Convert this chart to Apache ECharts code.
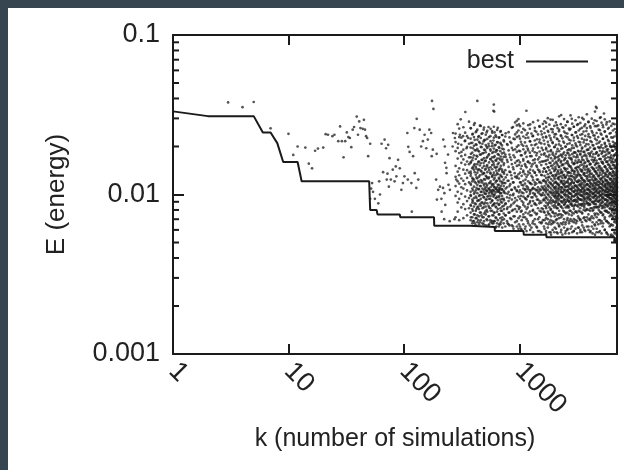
<!DOCTYPE html>
<html><head><meta charset="utf-8">
<script src="https://cdn.jsdelivr.net/npm/echarts@6/dist/echarts.min.js"></script>
<style>
html,body{margin:0;padding:0;background:#36454f;}
#wrap{position:absolute;left:8px;top:8px;width:616px;height:462px;background:#fff;}
#chart{position:absolute;left:-8px;top:-8px;width:624px;height:470px;}
</style></head>
<body><div id="wrap"><div id="chart"></div></div>
<script>
// ---- data ----
const xTickLabels = ['1', '10', '100', '1000'];
const yTickLabels = ['0.001', '0.01', '0.1'];
const yMinorTicks = [0.002,0.003,0.004,0.005,0.006,0.007,0.008,0.009,0.02,0.03,0.04,0.05,0.06,0.07,0.08,0.09];

const bestK = [1,2,5,6,7,8,9,12,13,50,51,58,59,92,93,182,183,370,371,610,613,1085,1090,1710,1713,6650,6700,7000];
const bestE = [0.0332,0.031,0.031,0.0245,0.0245,0.021,0.016,0.016,0.0121,0.0121,0.008,0.008,0.0075,0.0075,0.0072,0.0072,0.00637,0.00637,0.00625,0.00625,0.0059,0.0059,0.0056,0.0056,0.0054,0.0054,0.0051,0.0051];

const sparsePts = [
[3,0.0378],[4,0.0353],[5,0.038],[7,0.026],[10,0.024],[11,0.0177],[12,0.02],[14,0.0197],[15,0.0156],[16,0.0146],
[17,0.0188],[18,0.0194],[20,0.0197],[21,0.0239],[22,0.0237],[24,0.0232],[25,0.0237],[27,0.0216],[28,0.0267],[29,0.0216],
[30,0.0171],[31,0.0216],[32,0.0245],[33,0.0229],[34,0.0226],[35,0.0198],[36,0.0255],[37,0.0265],[39,0.0308],[40,0.0237],
[41,0.0287],[42,0.0261],[44,0.0258],[45,0.0294],[46,0.0255],[47,0.0232],[48,0.0226],[49,0.0174],[51,0.0208],[51,0.0094],
[52,0.0109],[53,0.0118],[54,0.0104],[56,0.0094],[60,0.0088],[61,0.0121],[62,0.01],[64,0.0208],[66,0.0138],[68,0.0221],
[70,0.0195],[71,0.0124],[72,0.0135],[73,0.0205],[74,0.0112],[75,0.0169],[77,0.0124],[80,0.0143],[83,0.0121],[85,0.015],
[86,0.013],[89,0.0165],[92,0.0146],[95,0.0107],[98,0.0118],[101,0.013],[107,0.0243],[108,0.0124],[109,0.0199],[112,0.0185],
[116,0.0118],[117,0.0078],[120,0.0174],[123,0.0261],[124,0.0136],[128,0.011],[129,0.0298],[133,0.0124],[137,0.0255],[141,0.02],
[146,0.0216],[151,0.0237],[156,0.0195],[161,0.0221],[166,0.0255],[172,0.0243],[174,0.0174],[175,0.0386],[178,0.0191],[180,0.0344],
[190,0.0124],[192,0.018],[193,0.0093],[198,0.0107],[205,0.0112],[211,0.0094],[212,0.0078],[218,0.011],[219,0.0221],[223,0.007],
[224,0.0102],[226,0.02],[227,0.0158],[228,0.0086],[233,0.0147],[234,0.0136],[241,0.0178],[243,0.0115],[249,0.0068],[250,0.0107],
[264,0.02],[266,0.0243],[274,0.007],[276,0.0226],[284,0.0124],[295,0.0208],[305,0.0237],[310,0.0296],[315,0.0185],[325,0.0232],
[337,0.0216],[340,0.0329],[348,0.0195],[360,0.0226],[432,0.0386],[600,0.0366],[605,0.0331],[1150,0.0335],[4600,0.0355],[5400,0.0322]
];

// columns of points: [k, [E values at that k]]
const denseColsA = [
[380,[0.026,0.021,0.018,0.016,0.0135,0.0115,0.0098,0.0085,0.0072]],
[395,[0.024,0.0195,0.017,0.0148,0.0125,0.0106,0.0091,0.0079,0.0068]],
[410,[0.028,0.022,0.019,0.0155,0.0138,0.012,0.0103,0.0088,0.0075,0.0066]],
[425,[0.025,0.0205,0.0175,0.0145,0.0128,0.011,0.0095,0.0081,0.0071]],
[440,[0.023,0.0188,0.016,0.0142,0.0121,0.0108,0.0092,0.0084,0.0069]],
[455,[0.027,0.021,0.0178,0.0152,0.0132,0.0113,0.0099,0.0087,0.0077,0.0067]],
[470,[0.024,0.0198,0.0165,0.0139,0.0119,0.0104,0.0089,0.0074]],
[490,[0.0255,0.0215,0.0182,0.0158,0.0136,0.0117,0.0107,0.0096,0.0083,0.0072,0.0065]],
[505,[0.022,0.019,0.0162,0.0143,0.0124,0.011,0.0101,0.0089,0.0078]],
[520,[0.0245,0.02,0.017,0.015,0.0129,0.0112,0.0105,0.0093,0.008,0.007]],
[540,[0.0265,0.0208,0.0176,0.0147,0.0126,0.0109,0.0098,0.0085,0.0073,0.0064]],
[560,[0.0232,0.0192,0.0167,0.0137,0.0118,0.0106,0.0094,0.0082,0.0069]],
[580,[0.025,0.0201,0.0171,0.0153,0.0131,0.0114,0.0103,0.0091,0.0079,0.0068]],
[595,[0.0335,0.0218,0.0185,0.0159,0.0133,0.0116,0.0107,0.0097,0.0086,0.0074,0.0066]],
[610,[0.0245,0.0203,0.0174,0.0149,0.0127,0.0111,0.01,0.0088,0.0077,0.0068]],
[630,[0.023,0.019,0.0163,0.0141,0.0122,0.0108,0.0095,0.0083,0.0071,0.0063]],
[650,[0.0262,0.0212,0.0179,0.0155,0.0134,0.0115,0.0104,0.0092,0.0081,0.0069]],
[670,[0.0228,0.0196,0.0168,0.0144,0.0125,0.011,0.0106,0.0098,0.0087,0.0075,0.0065]],
[690,[0.025,0.0207,0.0173,0.0151,0.013,0.0113,0.0102,0.009,0.0079,0.0067]],
[710,[0.0236,0.0194,0.0166,0.0139,0.012,0.0107,0.0094,0.0084,0.0072,0.0062]],
[735,[0.0215,0.0183,0.0157,0.0135,0.0118,0.0105,0.0092,0.0081,0.007]],
[760,[0.0242,0.0172,0.0128,0.0109,0.0088,0.0074]],
[790,[0.0205,0.016,0.0122,0.0101,0.0083,0.0066]],
[820,[0.0228,0.0178,0.0139,0.0113,0.0095,0.0077,0.0064]],
[850,[0.021,0.0165,0.0132,0.0107,0.0086,0.007]],
[880,[0.0265,0.019,0.0148,0.0119,0.0099,0.008,0.0063]],
[910,[0.0222,0.0171,0.0136,0.0111,0.009,0.0073]],
[950,[0.029,0.0245,0.0199,0.0162,0.013,0.0105,0.0085,0.0068]],
[990,[0.0275,0.0232,0.0188,0.0153,0.0126,0.0103,0.0081,0.0065]],
[1030,[0.0214,0.0176,0.0145,0.0119,0.0098,0.0078,0.0061]],
[1080,[0.0258,0.0202,0.0167,0.0138,0.0114,0.0102,0.0089,0.0072]],
[1130,[0.0226,0.0185,0.0151,0.0124,0.0108,0.0094,0.0077,0.0063]],
[1180,[0.0243,0.0194,0.016,0.0133,0.0111,0.0097,0.0083,0.0068]],
[1240,[0.0275,0.0215,0.0174,0.0143,0.0118,0.0104,0.0091,0.0074,0.006]],
[1300,[0.0232,0.0188,0.0155,0.0128,0.0109,0.0096,0.0079,0.0066]],
[1360,[0.0251,0.0204,0.0166,0.0137,0.0115,0.0101,0.0087,0.007]],
[1420,[0.0222,0.0182,0.0149,0.0124,0.0107,0.0093,0.0076,0.0062]],
[1490,[0.0268,0.0212,0.0171,0.0141,0.0119,0.0105,0.0088,0.0072,0.0059]],
[1560,[0.0238,0.0196,0.0161,0.0132,0.0112,0.0099,0.0082,0.0067]],
[1630,[0.0259,0.0218,0.0178,0.0146,0.0123,0.0108,0.0094,0.0078,0.0063]],
[1700,[0.0282,0.0231,0.0192,0.0163,0.0139,0.012,0.0106,0.0095,0.0084,0.0071,0.0059]],
[1780,[0.0247,0.0205,0.0172,0.0148,0.0128,0.0113,0.01,0.0088,0.0076,0.0065]],
[1860,[0.0295,0.0226,0.0187,0.0158,0.0136,0.0118,0.0104,0.0092,0.008,0.0069,0.0058]],
[1940,[0.0256,0.0212,0.0178,0.0152,0.0131,0.0115,0.0102,0.009,0.0078,0.0066]],
[2020,[0.0238,0.0199,0.0168,0.0143,0.0125,0.0111,0.0098,0.0086,0.0073,0.0062]],
[2110,[0.0272,0.0224,0.0186,0.0157,0.0134,0.0117,0.0103,0.0094,0.0082,0.007,0.0058]],
[2200,[0.0249,0.0206,0.0174,0.0149,0.0129,0.0112,0.0099,0.0087,0.0075,0.0064]],
[2300,[0.0315,0.0232,0.0193,0.0162,0.0138,0.0121,0.0107,0.0096,0.0084,0.0072,0.006]],
[2400,[0.0262,0.0215,0.018,0.0154,0.0132,0.0116,0.0104,0.0091,0.0079,0.0067]],
[2500,[0.0243,0.02,0.0169,0.0145,0.0127,0.0112,0.01,0.0089,0.0077,0.0065,0.0057]],
[2610,[0.0285,0.0228,0.0189,0.0159,0.0137,0.0119,0.0106,0.0094,0.0083,0.0071,0.0061]],
[2720,[0.0254,0.0209,0.0176,0.015,0.013,0.0114,0.0102,0.0091,0.0079,0.0068]],
[2840,[0.0298,0.0236,0.0195,0.0165,0.0141,0.0123,0.0109,0.0097,0.0086,0.0074,0.0063]],
[2960,[0.0266,0.0218,0.0183,0.0156,0.0135,0.0118,0.0104,0.0092,0.0081,0.007,0.0059]],
[3090,[0.0245,0.0203,0.0171,0.0147,0.0128,0.0113,0.0101,0.009,0.0078,0.0066]],
[3220,[0.0276,0.0226,0.0188,0.016,0.0138,0.012,0.0106,0.0095,0.0084,0.0073,0.0062]],
[3360,[0.0258,0.0212,0.0178,0.0152,0.0132,0.0116,0.0103,0.0093,0.0082,0.007,0.0058]],
[3500,[0.0302,0.0239,0.0197,0.0166,0.0142,0.0124,0.0109,0.0098,0.0087,0.0076,0.0064]],
[3650,[0.0268,0.022,0.0185,0.0157,0.0136,0.0119,0.0105,0.0094,0.0083,0.0072,0.006]],
[3800,[0.025,0.0207,0.0174,0.0149,0.013,0.0115,0.0102,0.0091,0.008,0.0068]],
[3960,[0.0286,0.0231,0.0191,0.0162,0.014,0.0122,0.0108,0.0097,0.0086,0.0075,0.0063]],
[4130,[0.0262,0.0216,0.0182,0.0155,0.0134,0.0117,0.0104,0.0093,0.0082,0.0071,0.0059]],
[4300,[0.0244,0.0204,0.0172,0.0147,0.0128,0.0113,0.0101,0.009,0.0079,0.0067,0.0057]],
[4480,[0.0292,0.0234,0.0194,0.0164,0.0141,0.0123,0.0109,0.0098,0.0087,0.0076,0.0065]],
[4670,[0.0348,0.0268,0.0219,0.0184,0.0157,0.0136,0.0119,0.0105,0.0094,0.0083,0.0072,0.0061]],
[4860,[0.0255,0.0211,0.0177,0.0151,0.0131,0.0115,0.0102,0.0091,0.008,0.0069,0.0058]],
[5060,[0.0305,0.0241,0.0198,0.0167,0.0143,0.0125,0.011,0.0099,0.0088,0.0077,0.0066]],
[5270,[0.0272,0.0223,0.0187,0.0159,0.0137,0.012,0.0106,0.0095,0.0085,0.0074,0.0063]],
[5490,[0.0249,0.0207,0.0175,0.015,0.013,0.0114,0.0103,0.0093,0.0083,0.0072,0.006]],
[5710,[0.0284,0.023,0.0191,0.0161,0.0139,0.0122,0.0108,0.0098,0.0089,0.0079,0.0068,0.0057]],
[5940,[0.0262,0.0216,0.0181,0.0154,0.0133,0.0117,0.0105,0.0096,0.0087,0.0077,0.0066]],
[6180,[0.0243,0.02,0.0169,0.0145,0.0126,0.0112,0.0101,0.0093,0.0085,0.0075,0.0064,0.0055]],
[6430,[0.0278,0.0227,0.0188,0.0159,0.0137,0.012,0.0107,0.0098,0.009,0.0081,0.0071,0.006]],
[6690,[0.0257,0.021,0.0177,0.0151,0.0131,0.0116,0.0104,0.0095,0.0087,0.0078,0.0068,0.0057,0.0052]],
[6950,[0.0236,0.0195,0.0165,0.0142,0.0124,0.011,0.0101,0.0093,0.0085,0.0076,0.0066,0.0056,0.005]]
];

const denseColsB = [
[280,[0.0241,0.0187,0.0129,0.0098,0.0151,0.0072,0.0213,0.0113]],
[292,[0.0276,0.0168,0.0121,0.0089,0.0139,0.0104,0.0196,0.0078]],
[301,[0.0229,0.0182,0.0146,0.0117,0.0094,0.0259,0.0069,0.0132]],
[314,[0.0205,0.0158,0.0126,0.0101,0.0083,0.0227,0.0174,0.0111]],
[327,[0.0264,0.0191,0.0143,0.0109,0.0087,0.0122,0.0166,0.0071]],
[339,[0.0218,0.0177,0.0135,0.0097,0.0154,0.0081,0.0244,0.0116]],
[352,[0.0199,0.0161,0.0127,0.0106,0.0091,0.0232,0.0074,0.0142]],
[366,[0.0286,0.0208,0.0171,0.0119,0.0095,0.0137,0.0082,0.0155]],
[378,[0.0261,0.0224,0.0197,0.0171,0.0158,0.0139,0.0131,0.0117,0.0104,0.0099,0.0086,0.0077,0.0069]],
[391,[0.0238,0.0211,0.0183,0.0164,0.0146,0.0127,0.0121,0.0109,0.0093,0.0089,0.0081,0.0072,0.0066]],
[404,[0.0273,0.0229,0.0202,0.0176,0.0152,0.0143,0.0124,0.0112,0.0101,0.0095,0.0084,0.0075,0.0068]],
[419,[0.0246,0.0206,0.0189,0.0167,0.0149,0.0133,0.0118,0.0106,0.0097,0.0087,0.0079,0.0071,0.0064]],
[432,[0.0255,0.0221,0.0193,0.0173,0.0155,0.0137,0.0126,0.0115,0.0102,0.0091,0.0083,0.0074,0.0067]],
[447,[0.0232,0.0214,0.0186,0.0161,0.0144,0.0129,0.0119,0.0108,0.0098,0.0092,0.0081,0.0073,0.0065]],
[463,[0.0269,0.0226,0.0199,0.0178,0.0157,0.0141,0.0123,0.0113,0.0104,0.0094,0.0085,0.0077,0.0069]],
[478,[0.0242,0.0208,0.0181,0.0165,0.0147,0.0134,0.0122,0.0109,0.0099,0.0089,0.0082,0.0072,0.0066]],
[494,[0.0263,0.0219,0.0191,0.0169,0.0151,0.0136,0.0125,0.0114,0.0103,0.0096,0.0087,0.0076,0.0068]],
[511,[0.0237,0.0204,0.0184,0.0163,0.0145,0.0131,0.0117,0.0107,0.0101,0.0093,0.0084,0.0075,0.0064]],
[527,[0.0251,0.0223,0.0196,0.0172,0.0153,0.0138,0.0127,0.0115,0.0105,0.0097,0.0088,0.0078,0.0069]],
[546,[0.0229,0.0201,0.0179,0.0159,0.0142,0.0128,0.0118,0.0108,0.0102,0.0094,0.0083,0.0073,0.0065]],
[563,[0.0258,0.0216,0.0188,0.0166,0.0148,0.0135,0.0121,0.0111,0.0104,0.0098,0.0089,0.0079,0.0067]],
[582,[0.0244,0.0209,0.0182,0.0162,0.0144,0.0129,0.0116,0.0106,0.0101,0.0092,0.0085,0.0074,0.0066]],
[601,[0.0266,0.0227,0.0194,0.0171,0.0154,0.0137,0.0124,0.0112,0.0105,0.0099,0.0087,0.0077,0.0068]],
[622,[0.0235,0.0205,0.0185,0.0164,0.0147,0.0132,0.0119,0.0109,0.0103,0.0095,0.0084,0.0072,0.0062]],
[641,[0.0254,0.0213,0.0189,0.0168,0.0149,0.0136,0.0122,0.0111,0.0106,0.0097,0.0088,0.0078,0.0066]],
[663,[0.0227,0.0198,0.0177,0.0158,0.0141,0.0127,0.0115,0.0107,0.0104,0.0096,0.0086,0.0075,0.0063]],
[684,[0.0247,0.0211,0.0187,0.0165,0.0146,0.0133,0.0121,0.0109,0.0102,0.0093,0.0082,0.0071,0.0065]],
[707,[0.0236,0.0203,0.0181,0.0161,0.0143,0.0129,0.0117,0.0108,0.0098,0.0089,0.0079,0.0069]],
[731,[0.0219,0.0192,0.0172,0.0153,0.0138,0.0124,0.0113,0.0103,0.0094,0.0085,0.0076,0.0066]],
[755,[0.0231,0.0178,0.0142,0.0118,0.0102,0.0087,0.0074,0.0063]],
[781,[0.0207,0.0165,0.0133,0.0111,0.0096,0.0081,0.0068]],
[806,[0.0246,0.0189,0.0149,0.0122,0.0104,0.0091,0.0077,0.0065]],
[833,[0.0214,0.0171,0.0138,0.0116,0.0099,0.0084,0.0071]],
[861,[0.0262,0.0196,0.0155,0.0126,0.0107,0.0093,0.0079,0.0064]],
[889,[0.0224,0.0176,0.0144,0.0119,0.0101,0.0088,0.0073,0.0061]],
[918,[0.0283,0.0238,0.0192,0.0158,0.0129,0.0109,0.0095,0.0081,0.0067]],
[950,[0.0271,0.0229,0.0185,0.0151,0.0127,0.0106,0.0092,0.0078,0.0063]],
[981,[0.0297,0.0252,0.0203,0.0164,0.0134,0.0112,0.0097,0.0084,0.0071,0.0061]],
[1012,[0.0268,0.0224,0.0187,0.0159,0.0137,0.0119,0.0106,0.0094,0.0083,0.0073,0.0063]],
[1046,[0.0245,0.0206,0.0176,0.0151,0.0131,0.0115,0.0103,0.0091,0.0079,0.0069,0.006]],
[1081,[0.0279,0.0231,0.0192,0.0163,0.0141,0.0122,0.0109,0.0097,0.0086,0.0075,0.0065]],
[1117,[0.0253,0.0212,0.0181,0.0155,0.0134,0.0117,0.0107,0.0095,0.0084,0.0072,0.0061]],
[1153,[0.0237,0.0201,0.0172,0.0148,0.0129,0.0113,0.0104,0.0093,0.0081,0.007,0.0059]],
[1192,[0.0272,0.0227,0.0189,0.0161,0.0139,0.0121,0.0108,0.0098,0.0087,0.0076,0.0066]],
[1231,[0.0258,0.0216,0.0183,0.0157,0.0136,0.0118,0.0106,0.0101,0.0089,0.0078,0.0064]],
[1272,[0.0241,0.0204,0.0174,0.015,0.0131,0.0116,0.0107,0.0096,0.0085,0.0074,0.0062]],
[1314,[0.0284,0.0233,0.0194,0.0164,0.0141,0.0123,0.011,0.0102,0.0091,0.008,0.0068,0.0058]],
[1358,[0.0262,0.0218,0.0184,0.0158,0.0137,0.0119,0.0108,0.0099,0.0088,0.0077,0.0065]],
[1402,[0.0247,0.0207,0.0176,0.0152,0.0132,0.0117,0.0106,0.0097,0.0086,0.0075,0.0063]],
[1449,[0.0291,0.0238,0.0197,0.0166,0.0143,0.0124,0.0111,0.0103,0.0093,0.0082,0.007,0.0059]],
[1497,[0.0266,0.0221,0.0186,0.0159,0.0138,0.012,0.0108,0.0101,0.0091,0.0079,0.0067]],
[1546,[0.0249,0.0209,0.0178,0.0153,0.0133,0.0118,0.0107,0.0099,0.0089,0.0078,0.0066,0.0058]],
[1598,[0.0277,0.0228,0.019,0.0161,0.0139,0.0122,0.011,0.0102,0.0092,0.0081,0.0069]],
[1650,[0.0288,0.0243,0.0207,0.0181,0.0162,0.0145,0.0131,0.0121,0.0113,0.0106,0.0099,0.0092,0.0085,0.0077,0.0069,0.0061]],
[1705,[0.0266,0.0228,0.0196,0.0174,0.0155,0.0139,0.0127,0.0117,0.011,0.0103,0.0096,0.0089,0.0082,0.0074,0.0066,0.0057]],
[1761,[0.0301,0.0251,0.0214,0.0186,0.0165,0.0148,0.0134,0.0123,0.0114,0.0107,0.01,0.0093,0.0086,0.0078,0.007,0.0062]],
[1819,[0.0274,0.0234,0.0201,0.0177,0.0158,0.0142,0.0129,0.0119,0.0111,0.0104,0.0097,0.009,0.0083,0.0075,0.0067,0.0058]],
[1879,[0.0257,0.0219,0.019,0.0169,0.0151,0.0137,0.0125,0.0116,0.0109,0.0102,0.0095,0.0088,0.0081,0.0073,0.0065,0.0056]],
[1941,[0.0294,0.0246,0.021,0.0183,0.0163,0.0146,0.0132,0.0122,0.0113,0.0106,0.0099,0.0092,0.0085,0.0077,0.0068,0.006]],
[2005,[0.0269,0.0229,0.0198,0.0175,0.0156,0.014,0.0128,0.0118,0.011,0.0103,0.0097,0.009,0.0083,0.0076,0.0067,0.0058]],
[2071,[0.0283,0.0239,0.0205,0.018,0.016,0.0144,0.0131,0.012,0.0112,0.0105,0.0098,0.0091,0.0084,0.0076,0.0069,0.0061]],
[2140,[0.0261,0.0222,0.0193,0.0171,0.0153,0.0138,0.0126,0.0117,0.0109,0.0102,0.0096,0.0089,0.0082,0.0074,0.0066,0.0057]],
[2210,[0.0309,0.0255,0.0216,0.0187,0.0166,0.0149,0.0135,0.0124,0.0115,0.0108,0.0101,0.0094,0.0087,0.0079,0.0071,0.0063]],
[2283,[0.0276,0.0235,0.0202,0.0178,0.0159,0.0143,0.013,0.0119,0.0111,0.0104,0.0098,0.0091,0.0084,0.0075,0.0066,0.0058]],
[2358,[0.0264,0.0225,0.0195,0.0172,0.0154,0.0139,0.0127,0.0118,0.011,0.0103,0.0096,0.0089,0.0082,0.0074,0.0065,0.0056]],
[2436,[0.0297,0.0248,0.0211,0.0184,0.0164,0.0147,0.0133,0.0122,0.0114,0.0107,0.01,0.0093,0.0086,0.0078,0.007,0.0062]],
[2517,[0.0271,0.0231,0.0199,0.0176,0.0157,0.0141,0.0129,0.0119,0.0111,0.0104,0.0097,0.009,0.0083,0.0076,0.0067,0.0059]],
[2600,[0.0286,0.0241,0.0207,0.0182,0.0162,0.0145,0.0132,0.0121,0.0113,0.0106,0.0099,0.0092,0.0085,0.0077,0.0069,0.006]],
[2686,[0.0259,0.0221,0.0192,0.017,0.0152,0.0137,0.0126,0.0117,0.0109,0.0102,0.0096,0.009,0.0083,0.0075,0.0066,0.0057]],
[2774,[0.0313,0.0258,0.0218,0.0189,0.0167,0.015,0.0136,0.0125,0.0116,0.0108,0.0101,0.0094,0.0087,0.0079,0.007,0.0061]],
[2866,[0.0278,0.0236,0.0203,0.0179,0.0159,0.0143,0.013,0.012,0.0112,0.0105,0.0098,0.0091,0.0085,0.0077,0.0068,0.0058]],
[2960,[0.0266,0.0227,0.0196,0.0173,0.0155,0.014,0.0128,0.0118,0.011,0.0104,0.0097,0.0091,0.0084,0.0076,0.0067,0.0059]],
[3058,[0.0292,0.0245,0.0209,0.0183,0.0163,0.0146,0.0133,0.0122,0.0114,0.0107,0.01,0.0093,0.0086,0.0078,0.0069,0.0061]],
[3159,[0.0273,0.0232,0.02,0.0177,0.0158,0.0142,0.013,0.012,0.0112,0.0105,0.0099,0.0092,0.0085,0.0077,0.0068,0.0057]],
[3263,[0.0305,0.0252,0.0214,0.0186,0.0165,0.0148,0.0134,0.0123,0.0115,0.0108,0.0101,0.0094,0.0087,0.0079,0.0071,0.0062]],
[3371,[0.0281,0.0237,0.0204,0.018,0.016,0.0144,0.0131,0.0121,0.0113,0.0106,0.0099,0.0093,0.0086,0.0078,0.0069,0.006]],
[3482,[0.0262,0.0224,0.0194,0.0172,0.0154,0.0139,0.0127,0.0118,0.0111,0.0104,0.0098,0.0092,0.0085,0.0077,0.0067,0.0058]],
[3597,[0.0296,0.0248,0.0212,0.0185,0.0164,0.0147,0.0133,0.0123,0.0115,0.0108,0.0101,0.0095,0.0088,0.008,0.0071,0.0062]],
[3716,[0.0275,0.0233,0.0201,0.0178,0.0159,0.0143,0.0131,0.0121,0.0113,0.0106,0.01,0.0094,0.0087,0.0079,0.0069,0.0059]],
[3838,[0.0318,0.0261,0.022,0.019,0.0168,0.0151,0.0137,0.0125,0.0116,0.0109,0.0102,0.0096,0.0089,0.0081,0.0072,0.0063]],
[3965,[0.0284,0.0239,0.0206,0.0181,0.0161,0.0145,0.0132,0.0122,0.0114,0.0107,0.0101,0.0095,0.0088,0.008,0.007,0.006]],
[4096,[0.0268,0.0228,0.0197,0.0174,0.0156,0.0141,0.0129,0.0119,0.0112,0.0106,0.01,0.0094,0.0087,0.0079,0.0069,0.0058]],
[4231,[0.0299,0.025,0.0213,0.0186,0.0165,0.0148,0.0135,0.0124,0.0116,0.0109,0.0103,0.0097,0.009,0.0082,0.0073,0.0063]],
[4370,[0.0279,0.0235,0.0203,0.0179,0.016,0.0144,0.0132,0.0122,0.0114,0.0107,0.0101,0.0095,0.0088,0.008,0.0071,0.0061]],
[4514,[0.0331,0.0268,0.0224,0.0193,0.017,0.0153,0.0139,0.0127,0.0118,0.0111,0.0104,0.0098,0.0091,0.0083,0.0074,0.0064,0.0056]],
[4663,[0.0289,0.0243,0.0208,0.0183,0.0163,0.0147,0.0134,0.0124,0.0116,0.0109,0.0103,0.0097,0.0091,0.0084,0.0076,0.0067,0.0058]],
[4817,[0.0271,0.0229,0.0198,0.0175,0.0157,0.0142,0.013,0.0121,0.0114,0.0108,0.0102,0.0096,0.009,0.0083,0.0075,0.0065]],
[4976,[0.0302,0.0253,0.0215,0.0188,0.0167,0.015,0.0137,0.0126,0.0118,0.0111,0.0105,0.0099,0.0093,0.0086,0.0078,0.0069,0.0059]],
[5140,[0.0282,0.0237,0.0204,0.018,0.0161,0.0146,0.0133,0.0123,0.0116,0.011,0.0104,0.0098,0.0092,0.0085,0.0077,0.0068,0.0057]],
[5310,[0.0264,0.0224,0.0195,0.0173,0.0156,0.0141,0.0129,0.012,0.0113,0.0107,0.0101,0.0096,0.009,0.0083,0.0075,0.0066]],
[5485,[0.0296,0.0247,0.0211,0.0185,0.0165,0.0149,0.0136,0.0125,0.0117,0.0111,0.0105,0.0099,0.0093,0.0087,0.0079,0.007,0.006]],
[5666,[0.0275,0.0232,0.0201,0.0178,0.016,0.0145,0.0133,0.0123,0.0116,0.011,0.0104,0.0099,0.0093,0.0086,0.0078,0.0068,0.0058]],
[5852,[0.0258,0.022,0.0192,0.0171,0.0154,0.014,0.0129,0.012,0.0114,0.0108,0.0103,0.0097,0.0092,0.0085,0.0077,0.0067,0.0056]],
[6045,[0.0287,0.0241,0.0207,0.0183,0.0164,0.0148,0.0136,0.0126,0.0118,0.0112,0.0106,0.0101,0.0095,0.0089,0.0082,0.0073,0.0063]],
[6245,[0.0269,0.0228,0.0198,0.0176,0.0159,0.0145,0.0133,0.0124,0.0117,0.0111,0.0105,0.01,0.0095,0.0089,0.0082,0.0074,0.0065,0.0056]],
[6450,[0.0252,0.0214,0.0188,0.0168,0.0153,0.014,0.013,0.0122,0.0115,0.0109,0.0104,0.0099,0.0094,0.0088,0.0081,0.0073,0.0064,0.0055]],
[6663,[0.0276,0.0231,0.0199,0.0177,0.016,0.0146,0.0134,0.0125,0.0118,0.0112,0.0107,0.0102,0.0097,0.0091,0.0084,0.0076,0.0067,0.0058,0.0051]],
[6883,[0.0245,0.0208,0.0182,0.0163,0.0149,0.0137,0.0127,0.012,0.0114,0.0109,0.0104,0.0099,0.0094,0.0088,0.0081,0.0072,0.0062,0.0053]]
];

// extra points in the darkest core band at large k
const denseColsC = [
[2050,[0.0171,0.0149,0.0133,0.0119,0.0108,0.0101,0.0095,0.0089]],
[2170,[0.0163,0.0141,0.0127,0.0115,0.0105,0.0098,0.0092,0.0086]],
[2320,[0.0176,0.0152,0.0136,0.0122,0.0111,0.0103,0.0096,0.009]],
[2470,[0.0167,0.0145,0.0129,0.0117,0.0107,0.01,0.0093,0.0087]],
[2650,[0.0181,0.0155,0.0138,0.0124,0.0112,0.0104,0.0097,0.0091,0.0085]],
[2810,[0.0169,0.0147,0.0131,0.0118,0.0108,0.0101,0.0094,0.0088]],
[3010,[0.0184,0.0157,0.0139,0.0125,0.0113,0.0105,0.0098,0.0092,0.0086]],
[3190,[0.0172,0.0149,0.0133,0.012,0.011,0.0102,0.0096,0.009]],
[3420,[0.0187,0.016,0.0141,0.0127,0.0115,0.0106,0.0099,0.0093,0.0087]],
[3620,[0.0175,0.0151,0.0135,0.0122,0.0111,0.0103,0.0097,0.0091,0.0085]],
[3890,[0.0191,0.0163,0.0143,0.0128,0.0116,0.0107,0.01,0.0094,0.0088]],
[4060,[0.0178,0.0154,0.0137,0.0123,0.0112,0.0104,0.0098,0.0092,0.0086]],
[4410,[0.0193,0.0165,0.0145,0.013,0.0118,0.0109,0.0102,0.0096,0.009,0.0083]],
[4590,[0.018,0.0156,0.0139,0.0125,0.0114,0.0106,0.0099,0.0093,0.0087]],
[4920,[0.0196,0.0167,0.0147,0.0132,0.012,0.0111,0.0104,0.0097,0.0091,0.0084]],
[5200,[0.0183,0.0158,0.0141,0.0127,0.0116,0.0108,0.0101,0.0095,0.0089,0.0082]],
[5560,[0.0199,0.0169,0.0149,0.0134,0.0122,0.0113,0.0106,0.0099,0.0093,0.0086,0.0079]],
[5780,[0.0186,0.016,0.0143,0.0129,0.0118,0.011,0.0103,0.0097,0.0091,0.0084]],
[6110,[0.0201,0.0171,0.0151,0.0136,0.0124,0.0115,0.0108,0.0101,0.0095,0.0088,0.0081]],
[6330,[0.0189,0.0163,0.0145,0.0131,0.012,0.0112,0.0105,0.0099,0.0093,0.0086,0.0078]],
[6560,[0.0204,0.0174,0.0153,0.0138,0.0126,0.0117,0.011,0.0103,0.0097,0.0091,0.0084,0.0076]],
[6780,[0.0192,0.0165,0.0147,0.0133,0.0122,0.0113,0.0106,0.01,0.0094,0.0088,0.0081,0.0073]],
[6990,[0.0207,0.0176,0.0155,0.014,0.0128,0.0119,0.0111,0.0104,0.0098,0.0092,0.0086,0.0079,0.0071]]
];

// ---- build series data ----
const bestData = bestK.map((k, i) => [k, bestE[i]]);
const scatterData = sparsePts.slice();
denseColsA.concat(denseColsB, denseColsC).forEach(c => c[1].forEach(e => scatterData.push([c[0], e])));
const minorData = yMinorTicks.map(v => [1, v]);

const FONT = 'Liberation Sans';
const INK = '#1a1a1a';
const TXT = '#222';
const FS = 25;
const FT = 27;
const chart = echarts.init(document.getElementById('chart'), null, {renderer: 'canvas'});

const axisLineStyle = {show: true, lineStyle: {color: INK, width: 2}};
const majorTick = len => ({show: true, inside: true, length: len, lineStyle: {color: INK, width: 2}});

chart.setOption({
  backgroundColor: 'transparent',
  animation: false,
  grid: {left: 173, top: 35, right: 7, bottom: 116, containLabel: false},
  legend: {
    data: [{name: 'best', icon: 'rect'}], right: 31, top: 44, align: 'right',
    itemWidth: 62, itemHeight: 2, selectedMode: false,
    formatter: n => n + ' ',
    textStyle: {fontFamily: FONT, fontSize: FS, color: TXT}
  },
  xAxis: [
    {type: 'log', logBase: 10, min: 1, max: 7000, position: 'bottom',
     axisLine: axisLineStyle, axisTick: majorTick(10), splitLine: {show: false},
     axisLabel: {rotate: -45, margin: 13, fontFamily: FONT, fontSize: FT, color: TXT, showMaxLabel: false,
       formatter: v => { const l = Math.log10(v), i = Math.round(l); return (Math.abs(l - i) < 1e-6 && xTickLabels[i] !== undefined) ? xTickLabels[i] : ''; }},
     name: 'k (number of simulations)', nameLocation: 'middle', nameGap: 73,
     nameTextStyle: {fontFamily: FONT, fontSize: FS, color: TXT}},
    {type: 'log', logBase: 10, min: 1, max: 7000, position: 'top',
     axisLine: axisLineStyle, axisTick: majorTick(10), splitLine: {show: false}, axisLabel: {show: false}}
  ],
  yAxis: [
    {type: 'log', logBase: 10, min: 0.001, max: 0.1, position: 'left',
     axisLine: axisLineStyle, axisTick: majorTick(11), splitLine: {show: false},
     axisLabel: {margin: 13, fontFamily: FONT, fontSize: FT, color: TXT,
       formatter: v => { const i = Math.round(Math.log10(v)) + 3; return yTickLabels[i] || ''; }},
     name: 'E (energy)', nameLocation: 'middle', nameGap: 103, nameRotate: 90,
     nameTextStyle: {fontFamily: FONT, fontSize: 26, color: TXT}},
    {type: 'log', logBase: 10, min: 0.001, max: 0.1, position: 'right',
     axisLine: axisLineStyle, axisTick: majorTick(11), splitLine: {show: false}, axisLabel: {show: false}}
  ],
  series: [
    {name: 'pts', type: 'scatter', data: scatterData, symbol: 'circle', symbolSize: 2.7,
     itemStyle: {color: '#1c1c1c', opacity: 0.75}, silent: true, z: 2, large: false},
    {name: 'best', type: 'line', data: bestData, showSymbol: false, symbol: 'none',
     lineStyle: {color: INK, width: 2}, itemStyle: {color: INK}, silent: true, z: 3},
    {name: 'minor', type: 'custom', data: minorData, silent: true, z: 4, clip: false,
     renderItem: (params, api) => {
       const v = api.value(1);
       const pl = api.coord([1, v]);
       const pr = api.coord([7000, v]);
       const st = {stroke: INK, lineWidth: 2};
       return {type: 'group', children: [
         {type: 'line', shape: {x1: pl[0], y1: pl[1], x2: pl[0] + 6, y2: pl[1]}, style: st},
         {type: 'line', shape: {x1: pr[0], y1: pr[1], x2: pr[0] - 6, y2: pr[1]}, style: st}
       ]};
     }}
  ]
});
</script></body></html>
